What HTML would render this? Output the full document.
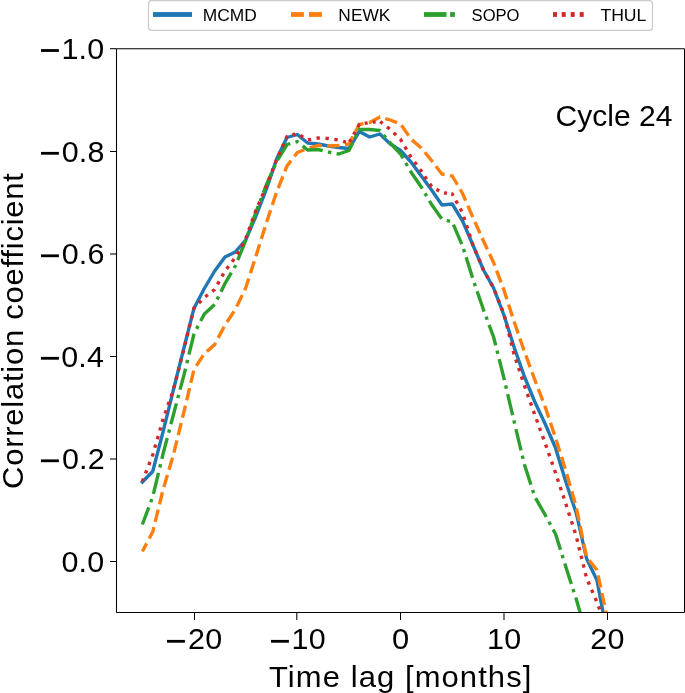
<!DOCTYPE html>
<html><head><meta charset="utf-8"><title>Cycle 24 correlation</title>
<style>html,body{margin:0;padding:0;background:#fff;width:685px;height:693px;overflow:hidden}svg{display:block;will-change:transform}text{font-family:"Liberation Sans",sans-serif;fill:#000;font-variant-ligatures:none}</style></head>
<body><svg width="685" height="693" viewBox="0 0 685 693">
<defs><clipPath id="ax"><rect x="116.5" y="48.7" width="568.0" height="563.8"/></clipPath></defs>
<rect x="0" y="0" width="685" height="693" fill="#fff"/>
<g clip-path="url(#ax)" fill="none" stroke-width="3.383" stroke-linejoin="round">
<polyline points="142.35,482.00 152.68,471.50 163.01,432.00 173.34,390.00 183.67,349.00 194.00,308.20 204.33,288.50 214.66,271.00 224.99,257.00 235.32,252.00 245.65,240.00 255.98,216.00 266.31,189.50 276.64,159.00 286.97,137.50 297.30,134.50 307.63,143.00 317.96,144.00 328.29,146.00 338.62,147.50 348.95,148.50 359.28,131.50 369.61,137.00 379.94,134.00 390.27,144.00 400.60,150.50 410.93,162.00 421.26,176.00 431.59,190.00 441.92,205.00 452.25,204.00 462.58,221.00 472.91,245.00 483.24,269.50 493.57,288.00 503.90,315.00 514.23,347.50 524.56,377.00 534.89,402.00 545.22,424.00 555.55,448.00 565.88,482.00 576.21,513.00 586.54,558.50 596.87,580.00 607.20,634.00" stroke="#1f77b4" stroke-linecap="square"/>
<path d="M142.35,551.50 146.66,543.37 M149.19,538.58 152.68,532.00 153.89,527.07 M155.19,521.81 158.18,509.65 M159.47,504.39 162.46,492.23 M163.89,487.03 167.43,475.02 M168.97,469.82 172.51,457.81 M173.93,452.60 176.92,440.45 M178.21,435.18 181.20,423.02 M182.49,417.78 183.67,413.00 185.43,405.61 M186.68,400.34 189.57,388.15 M190.82,382.90 193.72,370.68 M196.31,365.94 203.17,355.39 M206.79,351.45 214.66,344.60 215.65,342.72 M218.19,337.91 224.10,326.69 M226.99,322.00 234.07,311.38 M236.73,306.56 242.22,295.13 M244.58,290.23 245.65,288.00 248.75,278.40 M250.42,273.22 254.27,261.31 M255.92,256.19 255.98,256.00 259.66,244.26 M261.27,239.09 265.02,227.14 M266.65,221.97 270.60,210.11 M272.32,204.97 276.28,193.09 M278.22,188.03 282.83,176.42 M284.83,171.38 286.97,166.00 291.06,160.65 M294.35,156.35 297.30,152.50 304.44,149.74 M309.55,147.94 317.96,145.50 321.72,145.68 M327.13,145.94 328.29,146.00 338.62,145.50 339.60,145.36 M344.97,144.58 348.95,144.00 352.93,136.49 M355.46,131.70 359.28,124.50 363.55,123.67 M368.87,122.64 369.61,122.50 379.94,117.00 380.00,117.02 M385.21,118.53 390.27,120.00 397.01,122.61 M401.49,125.29 408.59,135.61 M411.91,139.85 421.26,148.00 421.32,148.07 M424.77,152.25 431.59,160.50 432.70,161.95 M435.98,166.23 441.92,174.00 444.61,174.52 M449.93,175.55 452.25,176.00 457.41,184.75 M460.16,189.40 462.58,193.50 465.65,200.63 M467.79,205.61 472.74,217.11 M474.95,222.03 480.00,233.29 M482.14,238.05 483.24,240.50 487.33,249.21 M489.62,254.09 493.57,262.50 494.71,265.53 M496.61,270.60 501.02,282.34 M502.93,287.41 503.90,290.00 506.90,299.30 M508.57,304.46 512.41,316.38 M514.07,321.52 514.23,322.00 518.15,333.38 M519.92,338.52 523.99,350.36 M525.83,355.44 530.15,367.16 M532.02,372.23 534.89,380.00 536.40,383.96 M538.33,389.00 542.81,400.69 M544.74,405.76 545.22,407.00 548.76,417.61 M550.46,422.74 554.42,434.62 M556.10,439.77 559.84,451.72 M561.46,456.87 565.20,468.82 M566.74,474.01 570.20,486.05 M571.69,491.24 575.14,503.27 M576.52,508.51 579.05,520.77 M580.15,526.06 582.68,538.32 M583.78,543.63 586.31,555.89 M589.19,560.34 596.87,570.00 596.91,570.18 M598.05,575.48 600.68,587.71 M601.82,592.99 604.45,605.23 M605.59,610.53 607.20,618.00" stroke="#ff7f0e"/>
<path d="M142.35,524.50 148.80,507.33 M150.70,502.28 151.89,499.09 M153.42,493.90 158.50,472.79 M159.77,467.50 160.56,464.21 M161.82,458.96 163.01,454.00 167.24,438.03 M168.63,432.79 169.49,429.54 M170.88,424.30 173.34,415.00 176.41,403.40 M177.79,398.18 178.66,394.90 M180.06,389.64 183.67,376.00 185.50,368.55 M186.80,363.27 187.61,359.97 M188.90,354.72 194.00,334.00 194.15,333.72 M196.63,328.90 198.19,325.88 M200.71,321.01 204.33,314.00 214.64,304.52 M217.07,299.61 218.57,296.55 M220.96,291.69 224.99,283.50 231.38,272.67 M234.14,268.01 235.32,266.00 235.71,265.03 M237.75,260.00 245.65,240.50 245.86,239.92 M247.71,234.82 248.86,231.65 M250.71,226.55 255.98,212.00 258.19,206.23 M260.12,201.18 261.33,198.03 M263.26,192.96 266.31,185.00 271.60,172.98 M273.78,168.01 275.14,164.92 M277.51,160.06 286.97,144.50 290.28,143.54 M295.47,142.03 297.30,141.50 298.45,142.45 M302.64,145.89 307.63,150.00 317.96,149.50 322.70,150.65 M327.97,151.92 328.29,152.00 331.30,152.58 M336.60,153.61 338.62,154.00 348.95,150.50 352.79,142.69 M355.17,137.85 356.67,134.80 M359.06,129.95 359.28,129.50 369.61,129.50 379.94,130.50 380.22,130.84 M383.66,135.01 385.83,137.63 M389.27,141.79 390.27,143.00 400.60,154.00 403.09,158.34 M405.78,163.02 407.47,165.97 M410.16,170.65 410.93,172.00 421.26,187.00 422.22,188.63 M424.97,193.28 426.70,196.21 M429.44,200.86 431.59,204.50 441.71,218.70 M446.75,220.40 449.96,221.33 M453.39,224.66 461.75,244.07 M463.53,249.04 464.52,252.21 M466.13,257.34 472.55,277.86 M474.27,282.94 475.36,286.12 M477.11,291.20 483.24,309.00 484.18,311.55 M486.04,316.60 487.21,319.75 M489.08,324.83 493.57,337.00 495.69,345.41 M497.01,350.66 497.84,353.94 M499.16,359.20 503.90,378.00 504.41,380.19 M505.65,385.47 506.43,388.76 M507.66,394.03 512.62,415.14 M513.86,420.42 514.23,422.00 514.64,423.71 M515.92,429.03 521.02,450.27 M522.30,455.58 523.09,458.88 M524.35,464.14 524.56,465.00 530.94,484.77 M532.61,489.92 533.64,493.14 M535.56,498.17 545.22,515.00 546.30,516.98 M548.88,521.74 550.50,524.71 M553.10,529.49 555.55,534.00 560.50,549.83 M562.13,555.02 563.14,558.24 M564.75,563.38 565.88,567.00 571.34,583.93 M573.00,589.06 574.03,592.26 M575.70,597.42 576.21,599.00 581.73,618.22" stroke="#2ca02c"/>
<path d="M142.35,481.50 143.47,478.63 M145.50,473.43 146.72,470.28 M148.76,465.06 150.00,461.88 M152.10,456.49 152.68,455.00 153.19,453.24 M154.76,447.84 155.71,444.57 M157.27,439.22 158.22,435.97 M159.78,430.61 160.72,427.37 M162.27,422.05 163.01,419.50 163.25,418.82 M165.09,413.55 166.21,410.36 M168.05,405.11 169.17,401.92 M171.01,396.65 172.13,393.45 M173.82,388.13 174.67,384.86 M176.06,379.48 176.90,376.20 M178.30,370.80 179.14,367.53 M180.54,362.13 181.38,358.85 M182.78,353.45 183.62,350.18 M184.96,344.76 185.77,341.48 M187.10,336.06 187.91,332.76 M189.24,327.34 190.05,324.06 M191.38,318.64 192.19,315.36 M193.52,309.94 194.00,308.00 194.97,307.01 M198.88,303.03 201.26,300.63 M205.28,296.77 207.92,294.72 M212.22,291.39 214.66,289.50 214.78,289.28 M217.50,284.41 219.17,281.42 M221.97,276.41 223.62,273.46 M226.62,268.87 228.66,266.20 M232.05,261.77 234.12,259.07 M237.09,254.34 238.74,251.37 M241.48,246.46 243.14,243.49 M245.80,238.57 246.94,235.37 M248.82,230.11 249.96,226.91 M251.84,221.62 252.99,218.39 M254.87,213.12 255.98,210.00 256.01,209.94 M258.25,204.83 259.62,201.72 M261.88,196.57 263.25,193.46 M265.47,188.41 266.31,186.50 266.77,185.29 M268.77,180.08 269.98,176.92 M271.96,171.73 273.18,168.55 M275.19,163.28 276.40,160.13 M278.63,155.08 280.00,152.01 M282.28,146.94 283.66,143.87 M285.93,138.82 286.97,136.50 287.62,136.31 M292.40,134.92 295.38,134.06 M300.33,135.41 303.17,137.20 M307.90,139.95 311.16,139.32 M316.54,138.27 317.96,138.00 319.87,138.09 M325.44,138.36 328.29,138.50 328.82,138.58 M334.34,139.38 337.70,139.87 M343.09,141.30 346.01,142.15 M349.57,141.89 351.01,139.32 M353.62,134.64 355.22,131.78 M357.89,126.99 359.28,124.50 359.64,124.43 M364.65,123.46 367.69,122.87 M372.74,122.17 375.68,121.85 M380.24,121.63 382.66,123.53 M386.99,126.93 389.62,128.99 M393.67,132.79 396.10,135.14 M400.11,139.02 400.60,139.50 401.97,141.82 M404.81,146.62 406.52,149.53 M409.36,154.34 410.93,157.00 411.14,157.28 M414.57,161.93 416.60,164.69 M419.91,169.18 421.26,171.00 421.86,171.89 M424.84,176.37 426.67,179.12 M429.76,183.76 431.59,186.50 431.63,186.52 M436.39,189.29 439.20,190.92 M444.00,192.80 446.87,193.22 M451.20,193.85 452.25,194.00 453.19,195.72 M455.85,200.63 457.48,203.61 M460.14,208.52 461.76,211.48 M463.77,216.69 464.81,219.92 M466.53,225.23 467.57,228.45 M469.29,233.78 470.33,237.00 M472.04,242.31 472.91,245.00 473.13,245.52 M475.30,250.67 476.61,253.78 M478.79,258.94 480.10,262.06 M482.28,267.22 483.24,269.50 483.68,270.29 M486.40,275.16 488.06,278.13 M490.78,283.00 492.43,285.95 M494.77,291.02 496.02,294.16 M498.08,299.35 499.33,302.51 M501.39,307.69 502.65,310.85 M504.44,316.13 505.26,319.41 M506.63,324.84 507.46,328.11 M508.82,333.52 509.65,336.82 M511.01,342.23 511.84,345.51 M513.21,350.94 514.03,354.22 M515.75,359.55 516.81,362.75 M518.58,368.05 519.65,371.27 M521.42,376.57 522.49,379.77 M524.33,385.31 524.56,386.00 525.49,388.60 M527.38,393.93 528.53,397.15 M530.40,402.41 531.54,405.59 M533.41,410.85 534.55,414.03 M536.44,419.28 537.59,422.46 M539.50,427.72 540.65,430.90 M542.56,436.17 543.71,439.34 M545.60,444.57 546.71,447.76 M548.56,453.05 549.69,456.26 M551.55,461.58 552.68,464.79 M554.52,470.06 555.55,473.00 555.63,473.25 M557.39,478.52 558.46,481.73 M560.22,487.02 561.28,490.19 M563.01,495.39 564.07,498.58 M565.84,503.87 565.88,504.00 566.88,507.09 M568.59,512.40 569.65,515.69 M571.44,521.21 572.50,524.50 M574.21,529.81 575.26,533.05 M576.82,538.47 577.62,541.75 M578.94,547.11 579.74,550.37 M581.07,555.75 581.87,558.99 M583.18,564.36 583.99,567.62 M585.32,573.04 586.13,576.32 M588.06,581.54 589.40,584.64 M591.60,589.77 592.94,592.87 M595.14,597.98 596.47,601.08 M598.46,606.32 599.64,609.51 M601.57,614.74 602.74,617.91" stroke="#d62728"/>
</g>
<g fill="none" stroke="#000" stroke-width="1.05">
<line x1="116.5" y1="48.7" x2="116.5" y2="612.5"/>
<line x1="684.5" y1="48.7" x2="684.5" y2="612.5"/>
<line x1="116.5" y1="48.7" x2="684.5" y2="48.7"/>
<line x1="116.5" y1="612.5" x2="684.5" y2="612.5"/>
<line x1="110" y1="48.7" x2="116.5" y2="48.7"/>
<line x1="110" y1="151.5" x2="116.5" y2="151.5"/>
<line x1="110" y1="254.0" x2="116.5" y2="254.0"/>
<line x1="110" y1="356.5" x2="116.5" y2="356.5"/>
<line x1="110" y1="459.0" x2="116.5" y2="459.0"/>
<line x1="110" y1="561.5" x2="116.5" y2="561.5"/>
<line x1="194.5" y1="612.5" x2="194.5" y2="620"/>
<line x1="296.8" y1="612.5" x2="296.8" y2="620"/>
<line x1="400.5" y1="612.5" x2="400.5" y2="620"/>
<line x1="504.0" y1="612.5" x2="504.0" y2="620"/>
<line x1="607.5" y1="612.5" x2="607.5" y2="620"/>
</g>
<g fill="#000">
<rect x="41" y="49.10" width="17.9" height="2.8"/>
<rect x="41" y="151.90" width="17.9" height="2.8"/>
<rect x="41" y="254.40" width="17.9" height="2.8"/>
<rect x="41" y="356.90" width="17.9" height="2.8"/>
<rect x="41" y="459.40" width="17.9" height="2.8"/>
<rect x="167.0" y="639.9" width="17.9" height="2.8"/>
<rect x="271.0" y="639.9" width="17.9" height="2.8"/>
</g>
<text transform="translate(61.42,59.00) scale(1.0500,1)" font-size="29.0" letter-spacing="0.176">1.0</text>
<text transform="translate(61.67,161.80) scale(1.0500,1)" font-size="29.0" letter-spacing="0.180">0.8</text>
<text transform="translate(61.67,264.30) scale(1.0500,1)" font-size="29.0" letter-spacing="0.180">0.6</text>
<text transform="translate(61.14,366.80) scale(1.0500,1)" font-size="29.0" letter-spacing="0.182">0.4</text>
<text transform="translate(61.94,469.30) scale(1.0500,1)" font-size="29.0" letter-spacing="0.179">0.2</text>
<text transform="translate(61.41,571.80) scale(1.0500,1)" font-size="29.0" letter-spacing="0.181">0.0</text>
<text transform="translate(187.97,649.40) scale(1.0500,1)" font-size="29.0" letter-spacing="0.421">20</text>
<text transform="translate(291.38,649.40) scale(1.0500,1)" font-size="29.0" letter-spacing="0.411">10</text>
<text transform="translate(391.95,649.40) scale(1.0650,1)" font-size="29.0">0</text>
<text transform="translate(486.88,649.40) scale(1.0500,1)" font-size="29.0" letter-spacing="0.411">10</text>
<text transform="translate(590.22,649.40) scale(1.0500,1)" font-size="29.0" letter-spacing="0.421">20</text>
<text transform="translate(269.01,686.60) scale(1.0500,1)" font-size="29.5" letter-spacing="1.034">Time lag [months]</text>
<text transform="translate(555.57,125.90) scale(1.0187,1)" font-size="29.5">Cycle 24</text>
<text transform="translate(22.6,487.4) rotate(-90) translate(-1.58,0) scale(1.0500,1)" font-size="29.5" letter-spacing="0.734">Correlation coefficient</text>
<rect x="148.5" y="0.5" width="504" height="29.8" rx="3" ry="3" fill="#fff" stroke="#cccccc" stroke-width="1.3"/>
<g>
<rect x="153" y="12.1" width="39" height="4.8" fill="#1f77b4"/>
<rect x="291" y="12.1" width="12.9" height="4.8" fill="#ff7f0e"/>
<rect x="309" y="12.1" width="12.9" height="4.8" fill="#ff7f0e"/>
<rect x="424" y="12.1" width="22.5" height="4.8" fill="#2ca02c"/>
<rect x="450.1" y="12.1" width="4.8" height="4.8" fill="#2ca02c"/>
<rect x="553" y="12.1" width="4" height="4.8" fill="#d62728"/>
<rect x="561.7" y="12.1" width="4" height="4.8" fill="#d62728"/>
<rect x="570.7" y="12.1" width="4" height="4.8" fill="#d62728"/>
<rect x="579.7" y="12.1" width="4" height="4.8" fill="#d62728"/>
</g>
<text transform="translate(202.66,20.60) scale(1.0238,1)" font-size="17.0">MCMD</text>
<text transform="translate(338.37,20.60) scale(1.0193,1)" font-size="17.0">NEWK</text>
<text transform="translate(471.57,20.60) scale(0.9768,1)" font-size="17.0">SOPO</text>
<text transform="translate(600.38,20.60) scale(1.0358,1)" font-size="17.0">THUL</text>
</svg></body></html>
